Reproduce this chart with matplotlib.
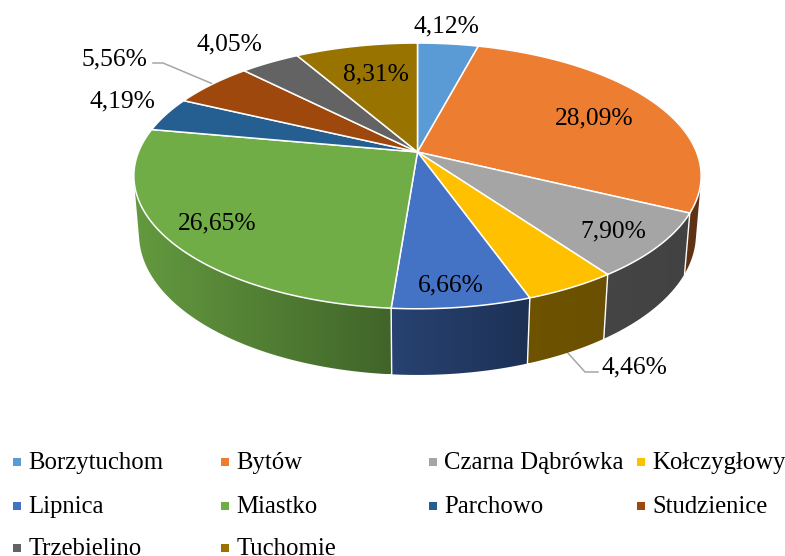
import numpy as np
import matplotlib
matplotlib.use('Agg')
import matplotlib.pyplot as plt
from matplotlib.patches import Polygon, Rectangle

# Share of each municipality in percent
names = ['Borzytuchom', 'Bytów', 'Czarna Dąbrówka', 'Kołczygłowy', 'Lipnica',
         'Miastko', 'Parchowo', 'Studzienice', 'Trzebielino', 'Tuchomie']
shares = [4.12, 28.09, 7.90, 4.46, 6.66, 26.65, 4.19, 5.56, 4.05, 8.31]
colors = ['#5B9BD5', '#ED7D31', '#A5A5A5', '#FFC000', '#4472C4',
          '#70AD47', '#255E91', '#9E480E', '#636363', '#997300']

label_pos = [(446, 26), (594, 118), (613, 231), (634, 367), (451, 285),
             (217, 223), (122, 101), (114, 59), (229, 44), (376, 74)]
legend_x = [13, 221, 429, 637]
legend_y = [469, 513, 555]

FONT = 'Liberation Serif'
CX = 417.5


def project(theta, level=0.0):
    # perspective view of the pie disc, level 1 is the bottom face
    u = np.sin(theta)
    v = -np.cos(theta)
    w = 1 - 0.18 * v + 0.018 * level
    return CX + 279 * u / w, (101.2 * v + 152 + 61 * level) / w


def side_shade(x):
    return np.interp(x, [140, 392, 528, 700], [0.88, 0.58, 0.43, 0.40])


def hull(points):
    # monotone chain, the part above the rim is hidden by the top face anyway
    pts = sorted(map(tuple, points))

    def half(seq):
        out = []
        for p in seq:
            while len(out) > 1 and ((out[-1][0] - out[-2][0]) * (p[1] - out[-2][1])
                                    - (out[-1][1] - out[-2][1]) * (p[0] - out[-2][0])) <= 0:
                out.pop()
            out.append(p)
        return out[:-1]

    return np.array(half(pts) + half(pts[::-1]))


fig = plt.figure(figsize=(7.85, 5.56), dpi=100)
ax = fig.add_axes([0, 0, 1, 1])

edges = np.concatenate([[0], np.cumsum(shares)]) / sum(shares) * 2 * np.pi

# Side wall, one horizontal gradient per slice clipped to its outline
for i in range(len(shares)):
    t = np.linspace(edges[i], edges[i + 1], 150)
    t = t[-np.cos(t) > -0.35]
    if len(t) < 2:
        continue
    x0, y0 = project(t)
    x1, y1 = project(t, 1)
    wall = hull(np.column_stack([np.r_[x0, x1], np.r_[y0, y1]]))
    patch = Polygon(wall, closed=True, facecolor='none', edgecolor='none', zorder=2)
    ax.add_patch(patch)
    left, right = wall[:, 0].min(), wall[:, 0].max()
    xs = np.linspace(left, right, 200)
    base = np.array(matplotlib.colors.to_rgb(colors[i]))
    grad = (base[None, :] * side_shade(xs)[:, None])[None, :, :]
    im = ax.imshow(grad, extent=[left, right, wall[:, 1].max(), wall[:, 1].min()],
                   aspect='auto', interpolation='bilinear', zorder=2)
    im.set_clip_path(patch)

ax.set_xlim(0, 785)
ax.set_ylim(556, 0)
ax.axis('off')

# White seams between the wall pieces
for a in edges[:-1]:
    if -np.cos(a) > -0.1:
        xa, ya = project(a)
        xb, yb = project(a, 1)
        ax.plot([xa, xb], [ya, yb], color='white', lw=1.0, zorder=3)

# Top face
for i in range(len(shares)):
    t = np.linspace(edges[i], edges[i + 1], 120)
    x, y = project(t)
    pts = np.column_stack([np.r_[CX, x], np.r_[152, y]])
    ax.add_patch(Polygon(pts, closed=True, facecolor=colors[i], edgecolor='white', lw=1.1, zorder=4))

# Leader lines
ax.plot([153, 163, 213], [63, 63, 84], color='#A6A6A6', lw=1.1, zorder=1)
ax.plot([567, 585, 598], [352, 372, 372], color='#A6A6A6', lw=1.1, zorder=1)

for val, (lx, ly) in zip(shares, label_pos):
    ax.text(lx, ly, f'{val:.2f}%'.replace('.', ','), fontsize=18.4, family=FONT,
            ha='center', va='center', color='black', zorder=5)

# Legend, filled row by row
for i, name in enumerate(names):
    row, col = divmod(i, 4)
    mx, my = legend_x[col], legend_y[row]
    ax.add_patch(Rectangle((mx, my - 11), 7.5, 8, facecolor=colors[i], edgecolor='none'))
    ax.text(mx + 15.5, my, name, fontsize=17.8, family=FONT, ha='left', va='baseline', color='black')

fig.savefig('out.png', dpi=100)
